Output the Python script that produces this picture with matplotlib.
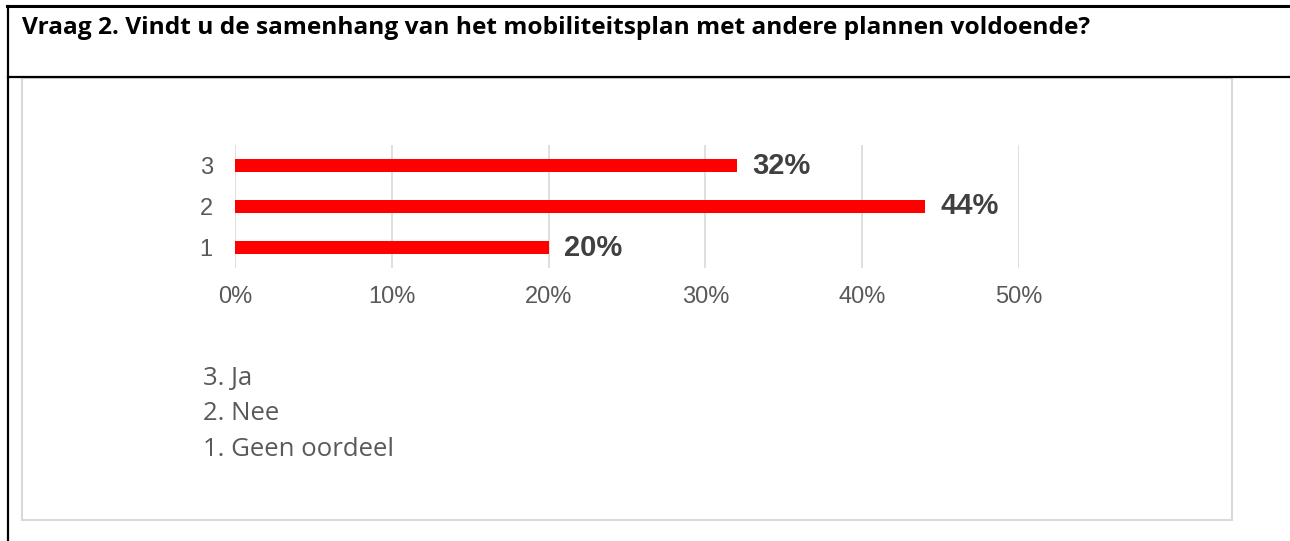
import matplotlib
matplotlib.use("Agg")
import matplotlib.pyplot as plt
from matplotlib.lines import Line2D
from matplotlib.patches import Rectangle
from matplotlib.ticker import PercentFormatter

title = "Vraag 2. Vindt u de samenhang van het mobiliteitsplan met andere plannen voldoende?"
categories = ["1", "2", "3"]
values = [0.20, 0.44, 0.32]
value_labels = ["20%", "44%", "32%"]
xticks = [0.0, 0.1, 0.2, 0.3, 0.4, 0.5]
legend_lines = ["3. Ja", "2. Nee", "1. Geen oordeel"]

W, H = 1290, 541
fig = plt.figure(figsize=(W / 100, H / 100), dpi=100)
renderer = fig.canvas.get_renderer()

def fx(px):
    return px / W

def fy(py):
    return 1 - py / H

def fit_size(txt, target_px, **kw):
    t = fig.text(0, 0, txt, fontsize=10, **kw)
    w = t.get_window_extent(renderer=renderer).width
    t.remove()
    return 10 * target_px / w

# document table borders
fig.add_artist(Line2D([fx(7), fx(1290)], [fy(6), fy(6)], color="black", lw=2.2))
fig.add_artist(Line2D([fx(8), fx(8)], [fy(6), fy(541)], color="black", lw=1.6))
fig.add_artist(Line2D([fx(8), fx(1290)], [fy(77), fy(77)], color="black", lw=1.6))

# chart box
fig.add_artist(Rectangle((fx(22), fy(520)), fx(1232) - fx(22), fy(78) - fy(520),
                         transform=fig.transFigure, fill=False, ec="#D9D9D9", lw=1.5))

title_font = dict(fontweight="bold", family=["Open Sans", "DejaVu Sans"])
ts = fit_size(title, 1071, **title_font)
fig.text(fx(22), fy(34), title, fontsize=ts, va="baseline", ha="left", color="black", **title_font)

ax = fig.add_axes([fx(235), fy(268), fx(1019) - fx(235), fy(145) - fy(268)])
ypos = list(range(len(categories)))
ax.barh(ypos, values, height=0.3, color="#FF0000", zorder=3)
ax.set_yticks(ypos)
ax.set_yticklabels(categories)
ax.set_ylim(-0.5, len(categories) - 0.5)
ax.set_xlim(0, 0.5)
ax.set_xticks(xticks)
ax.xaxis.set_major_formatter(PercentFormatter(1.0, decimals=0))
ax.grid(axis="x", color="#D9D9D9", lw=1.2, zorder=0)
for s in ax.spines.values():
    s.set_visible(False)
ax.tick_params(axis="both", length=0, colors="#595959", labelsize=17)
ax.tick_params(axis="y", pad=16)
ax.tick_params(axis="x", pad=13)
for lbl in ax.get_xticklabels() + ax.get_yticklabels():
    lbl.set_family(["Liberation Sans", "DejaVu Sans"])

for y, v, t in zip(ypos, values, value_labels):
    ax.annotate(t, (v, y), xytext=(11, 0), textcoords="offset points", va="center", ha="left",
                fontsize=21, fontweight="bold", color="#404040",
                family=["Liberation Sans", "DejaVu Sans"])

leg_font = dict(family=["Open Sans", "DejaVu Sans"])
ls = fit_size(legend_lines[-1], 190, **leg_font)
for i, t in enumerate(legend_lines):
    fig.text(fx(203), fy(378 + 35.5 * i), t, fontsize=ls, color="#595959",
             va="center", ha="left", **leg_font)

fig.savefig("out.png", dpi=100, facecolor="white")
